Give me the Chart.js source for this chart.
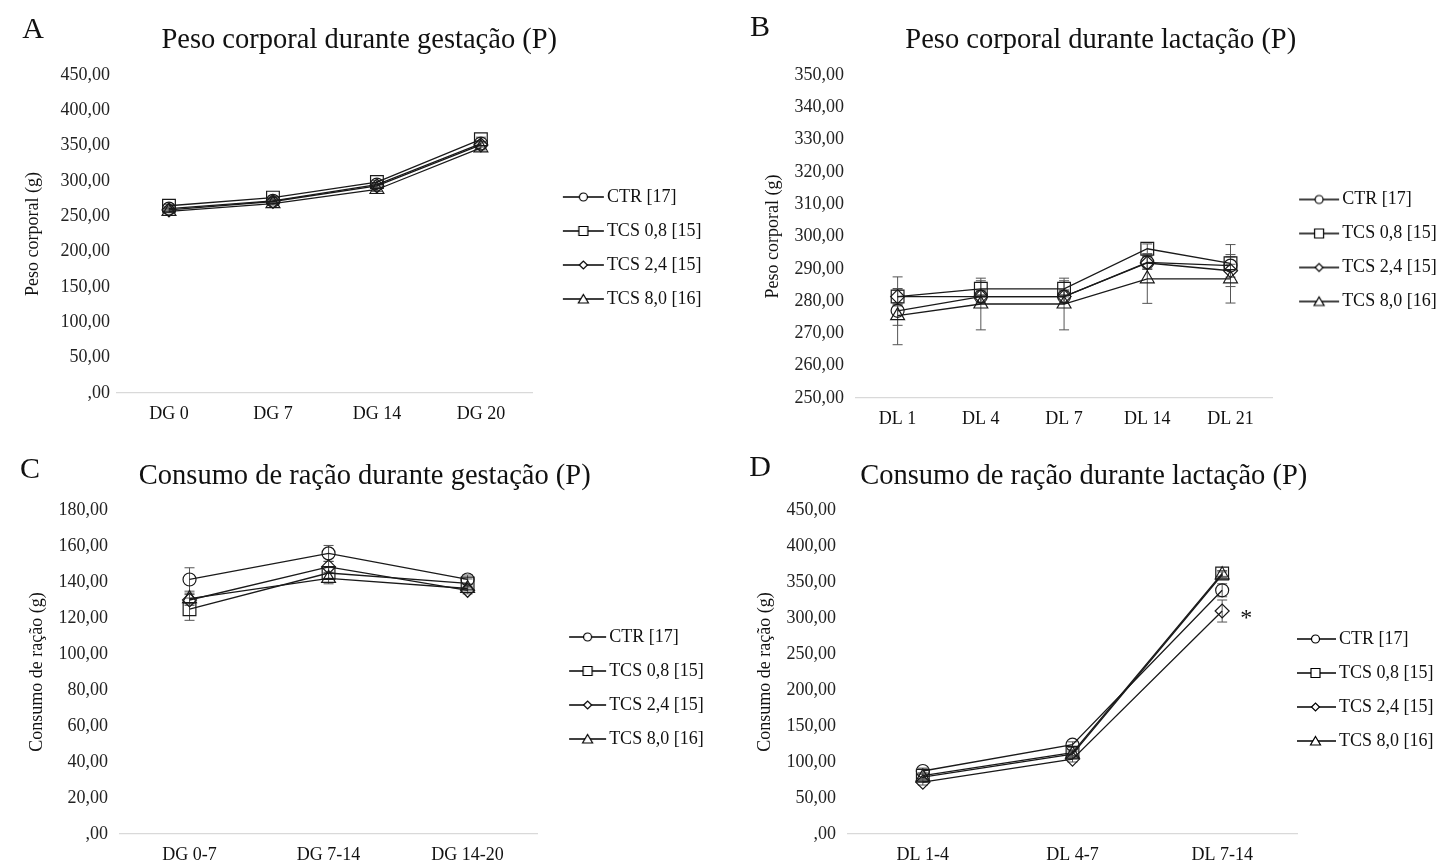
<!DOCTYPE html>
<html>
<head>
<meta charset="utf-8">
<script src="https://cdn.jsdelivr.net/npm/chart.js@4.4.1/dist/chart.umd.min.js"></script>
<style>
  body { margin: 0; background: #fff; width: 1454px; height: 865px; overflow: hidden; position: relative; }
  canvas { position: absolute; }
</style>
</head>
<body>
<canvas id="cA"></canvas>
<canvas id="cB"></canvas>
<canvas id="cC"></canvas>
<canvas id="cD"></canvas>
<script>
const FONT = '"Liberation Serif", "Times New Roman", serif';

const seriesLabels = ['CTR [17]', 'TCS 0,8 [15]', 'TCS 2,4 [15]', 'TCS 8,0 [16]'];
const markerShapes = ['circle', 'rect', 'rectRot', 'triangle'];
const markerSizes = [6.5, 9, 7, 8];

// A - peso corporal gestação
const catsA = ['DG 0', 'DG 7', 'DG 14', 'DG 20'];
const ctrA = [261, 272, 295, 353];
const tcs08A = [265, 276.5, 298.5, 359];
const tcs24A = [259, 271, 293, 351];
const tcs80A = [257, 268, 288, 347];
const errA = [[2, 2, 2, 3], [2, 2, 2, 3], [2, 2, 2, 3], [2, 2, 3, 3]];

// B - peso corporal lactação
const catsB = ['DL 1', 'DL 4', 'DL 7', 'DL 14', 'DL 21'];
const ctrB = [277, 281.4, 281.4, 292, 291];
const tcs08B = [281.4, 283.8, 283.8, 296.2, 291.7];
const tcs24B = [281.4, 281.4, 281.4, 291.8, 289.4];
const tcs80B = [275.5, 279.1, 279.1, 286.9, 286.9];
const errB = [[10.5, 2, 2, 2, 6.5], [2.5, 2.5, 2.5, 1.5, 2], [2, 2, 2, 2, 2], [3, 8, 8, 7.6, 7.5]];

// C - consumo de ração gestação
const catsC = ['DG 0-7', 'DG 7-14', 'DG 14-20'];
const ctrC = [141.4, 155.9, 141.4];
const tcs08C = [124.9, 145, 139.2];
const tcs24C = [130, 148.4, 135.4];
const tcs80C = [130.8, 142, 136.4];
const errC = [[6.5, 4.4, 2.5], [6.2, 3, 2.5], [3, 3, 2], [3, 3, 2]];

// D - consumo de ração lactação
const catsD = ['DL 1-4', 'DL 4-7', 'DL 7-14'];
const ctrD = [87.5, 124, 338.5];
const tcs08D = [81, 113, 361.8];
const tcs24D = [72, 104, 309.7];
const tcs80D = [79, 111, 360];
const errD = [[4, 4, 9], [4, 4, 4], [4, 4, 15.3], [4, 4, 4]];

function fmtTick(v) {
  return v === 0 ? ',00' : v.toFixed(2).replace('.', ',');
}

function legendIcon(shape, imgW, x0, x1) {
  const c = document.createElement('canvas');
  c.width = Math.ceil(imgW);
  c.height = 14;
  const g = c.getContext('2d');
  g.strokeStyle = '#000';
  g.lineWidth = 1.4;
  g.beginPath();
  g.moveTo(x0, 7);
  g.lineTo(x1, 7);
  g.stroke();
  const m = (x0 + x1) / 2;
  g.fillStyle = '#fff';
  g.lineWidth = 1.2;
  g.beginPath();
  if (shape === 'circle') g.arc(m, 7, 4, 0, Math.PI * 2);
  else if (shape === 'rect') g.rect(m - 4.5, 2.5, 9, 9);
  else if (shape === 'rectRot') { g.moveTo(m - 4, 7); g.lineTo(m, 3); g.lineTo(m + 4, 7); g.lineTo(m, 11); g.closePath(); }
  else { g.moveTo(m, 2.5); g.lineTo(m + 5, 11); g.lineTo(m - 5, 11); g.closePath(); }
  g.fill();
  g.stroke();
  return c;
}

function maxLabelWidth() {
  const g = document.createElement('canvas').getContext('2d');
  g.font = 'normal 18px ' + FONT;
  return Math.max(...seriesLabels.map(s => g.measureText(s).width));
}

const errorBarPlugin = {
  id: 'errorBars',
  beforeDatasetsDraw(chart) {
    const ctx = chart.ctx;
    const y = chart.scales.y;
    ctx.save();
    ctx.strokeStyle = '#555';
    ctx.lineWidth = 1;
    chart.data.datasets.forEach((ds, di) => {
      const meta = chart.getDatasetMeta(di);
      (ds.errors || []).forEach((e, i) => {
        const pt = meta.data[i];
        const v = ds.data[i];
        const top = y.getPixelForValue(v + e);
        const bot = y.getPixelForValue(v - e);
        ctx.beginPath();
        ctx.moveTo(pt.x, top); ctx.lineTo(pt.x, bot);
        ctx.moveTo(pt.x - 5, top); ctx.lineTo(pt.x + 5, top);
        ctx.moveTo(pt.x - 5, bot); ctx.lineTo(pt.x + 5, bot);
        ctx.stroke();
      });
    });
    ctx.restore();
  }
};

const letterPlugin = {
  id: 'panelLetter',
  afterDraw(chart, args, opts) {
    const ctx = chart.ctx;
    ctx.save();
    ctx.font = '30px ' + FONT;
    ctx.fillStyle = '#111';
    ctx.textAlign = 'center';
    ctx.textBaseline = 'middle';
    ctx.fillText(opts.text, opts.x, opts.y);
    ctx.restore();
  }
};

const notePlugin = {
  id: 'pointNote',
  afterDatasetsDraw(chart, args, opts) {
    if (!opts.text) return;
    const pt = chart.getDatasetMeta(opts.dataset).data[opts.index];
    const ctx = chart.ctx;
    ctx.save();
    ctx.font = '24px ' + FONT;
    ctx.fillStyle = '#111';
    ctx.textAlign = 'center';
    ctx.textBaseline = 'middle';
    ctx.fillText(opts.text, pt.x + opts.dx, pt.y + opts.dy);
    ctx.restore();
  }
};

function panel(p) {
  const cv = document.getElementById(p.id);
  cv.width = p.w;
  cv.height = p.h;
  cv.style.left = p.left + 'px';
  cv.style.top = p.top + 'px';

  // legend geometry (canvas coords)
  const T = maxLabelWidth();
  const padR = p.w - p.textX - T;
  const boxW = p.textX - 9 - p.chartRight - 16;
  const ctr = p.chartRight + 16 + boxW / 2;
  const imgW = 2 * Math.max(ctr - p.markL, p.markR - ctr) + 2;
  const off = ctr - Math.ceil(imgW) / 2;
  const icons = markerShapes.map(s => legendIcon(s, imgW, p.markL - off, p.markR - off));

  const datasets = p.series.map((vals, i) => ({
    label: seriesLabels[i],
    data: vals,
    errors: p.errors[i],
    borderColor: '#1a1a1a',
    borderWidth: 1.3,
    pointStyle: markerShapes[i],
    pointRadius: markerSizes[i],
    pointBorderColor: '#1a1a1a',
    pointBorderWidth: 1.2,
    pointBackgroundColor: 'rgba(255,255,255,0)',
    tension: 0
  }));

  new Chart(cv, {
    type: 'line',
    data: { labels: p.cats, datasets },
    plugins: [errorBarPlugin, letterPlugin, notePlugin],
    options: {
      responsive: false,
      animation: false,
      devicePixelRatio: 1,
      layout: { padding: { left: p.padL, right: padR, top: 0, bottom: p.padB } },
      scales: {
        x: {
          type: 'category',
          offset: true,
          grid: { display: false, drawTicks: false },
          border: { display: true, color: '#d9d9d9', width: 1.3 },
          ticks: { padding: 10, color: '#111', font: { family: FONT, size: 18 }, maxRotation: 0, autoSkip: false }
        },
        y: {
          min: p.yMin,
          max: p.yMax,
          grid: { display: false, drawTicks: false },
          border: { display: false },
          ticks: { stepSize: p.yStep, padding: p.tickPad, color: '#222', font: { family: FONT, size: 18 }, callback: fmtTick },
          title: { display: true, text: p.yTitle, color: '#111', font: { family: FONT, size: 18 }, padding: { top: p.yTitlePad, bottom: 0 } },
          afterFit: s => { s.width = p.yW; }
        }
      },
      plugins: {
        title: {
          display: true,
          text: p.title,
          color: '#111',
          font: { family: FONT, size: 28.5, weight: 'normal' },
          padding: { top: p.tPadTop, bottom: p.tPadBottom }
        },
        legend: {
          position: 'right',
          fullSize: false,
          title: { display: true, text: ' ', font: { size: 10 }, padding: { top: 0, bottom: p.legShift - 12 } },
          labels: {
            usePointStyle: true,
            pointStyleWidth: boxW,
            padding: 16,
            color: '#111',
            font: { family: FONT, size: 18 },
            generateLabels: chart => chart.data.datasets.map((ds, i) => ({
              text: ds.label,
              fontColor: '#111',
              pointStyle: icons[i],
              fillStyle: 'rgba(0,0,0,0)',
              strokeStyle: 'rgba(0,0,0,0)',
              lineWidth: 0,
              hidden: false,
              datasetIndex: i
            }))
          }
        },
        tooltip: { enabled: false },
        panelLetter: { text: p.letter, x: p.letterX, y: p.letterY },
        pointNote: p.note || {}
      }
    }
  });
}

panel({
  id: 'cA', left: 0, top: 0, w: 727, h: 440,
  cats: catsA, series: [ctrA, tcs08A, tcs24A, tcs80A], errors: errA,
  yMin: 0, yMax: 450, yStep: 50,
  title: 'Peso corporal durante gestação (P)', yTitle: 'Peso corporal (g)',
  padL: 12, yW: 105, padB: 5.4, tPadTop: 23.9, tPadBottom: 16.9, yTitlePad: 10.2, tickPad: 7,
  chartRight: 538, textX: 612, markL: 568, markR: 609, legShift: 28,
  letter: 'A', letterX: 33, letterY: 30
});

panel({
  id: 'cB', left: 740, top: 0, w: 714, h: 440,
  cats: catsB, series: [ctrB, tcs08B, tcs24B, tcs80B], errors: errB,
  yMin: 250, yMax: 350, yStep: 10,
  title: 'Peso corporal durante lactação (P)', yTitle: 'Peso corporal (g)',
  padL: 18, yW: 98, padB: 0.4, tPadTop: 23.9, tPadBottom: 16.9, yTitlePad: 4.2, tickPad: 12,
  chartRight: 539, textX: 609, markL: 566, markR: 606, legShift: 28,
  letter: 'B', letterX: 20, letterY: 28
});

panel({
  id: 'cC', left: 0, top: 440, w: 727, h: 436,
  cats: catsC, series: [ctrC, tcs08C, tcs24C, tcs80C], errors: errC,
  yMin: 0, yMax: 180, yStep: 20,
  title: 'Consumo de ração durante gestação (P)', yTitle: 'Consumo de ração (g)',
  padL: 20, yW: 100, padB: 0.4, tPadTop: 19.9, tPadBottom: 15.9, yTitlePad: 6.2, tickPad: 12,
  chartRight: 543, textX: 615, markL: 575, markR: 612, legShift: 32,
  letter: 'C', letterX: 30, letterY: 30
});

panel({
  id: 'cD', left: 720, top: 440, w: 734, h: 436,
  cats: catsD, series: [ctrD, tcs08D, tcs24D, tcs80D], errors: errD,
  yMin: 0, yMax: 450, yStep: 50,
  title: 'Consumo de ração durante lactação (P)', yTitle: 'Consumo de ração (g)',
  padL: 4, yW: 124, padB: 0.4, tPadTop: 19.9, tPadBottom: 15.9, yTitlePad: 30.2, tickPad: 12,
  chartRight: 587, textX: 629, markL: 585, markR: 626, legShift: 36,
  letter: 'D', letterX: 40, letterY: 28,
  note: { text: '*', dataset: 2, index: 2, dx: 24, dy: 8 }
});
</script>
</body>
</html>
